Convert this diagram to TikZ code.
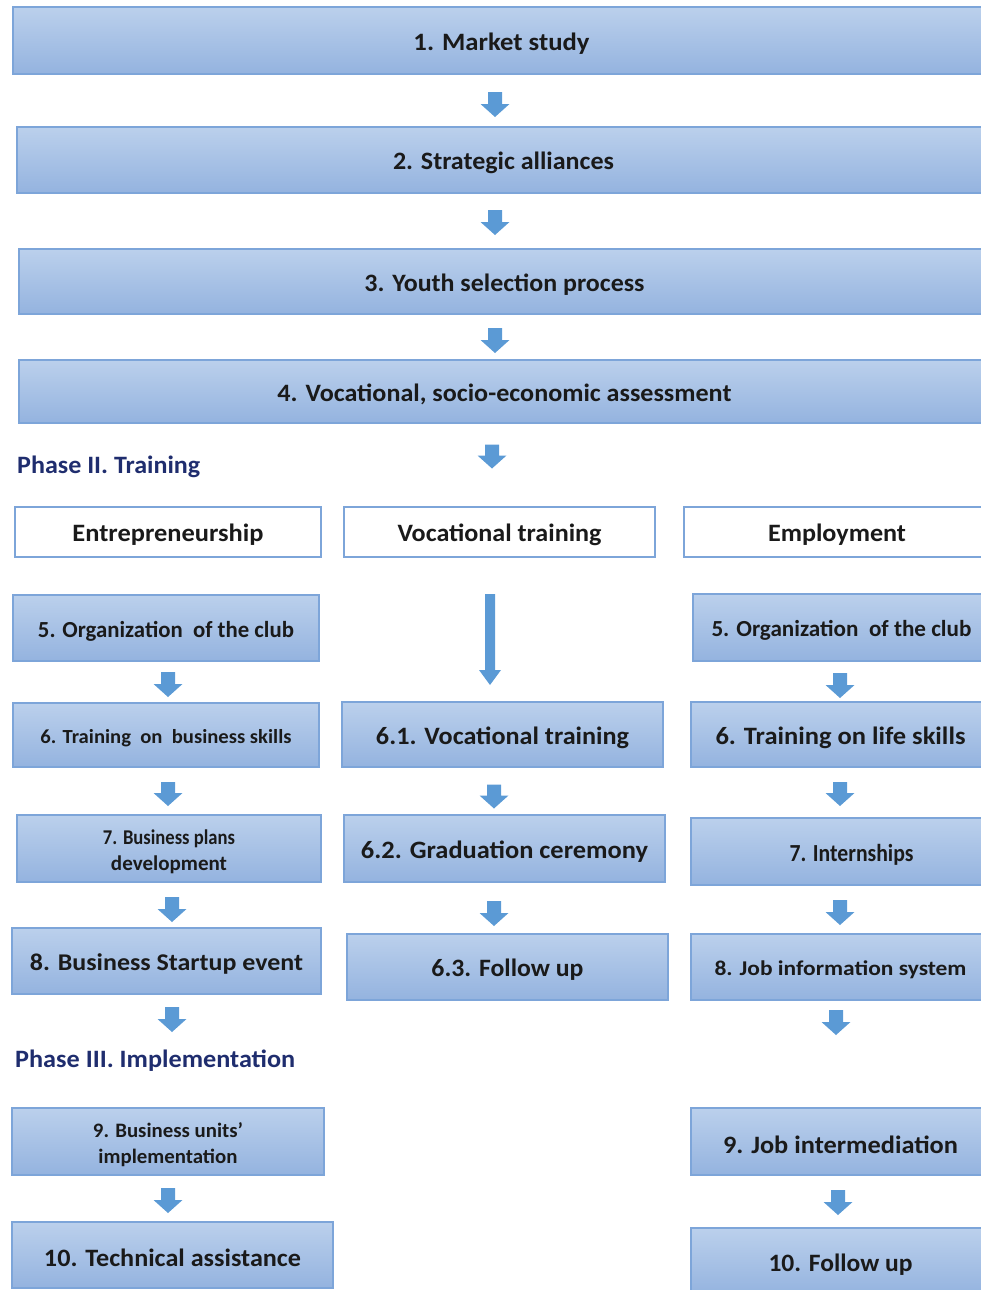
\documentclass[tikz,border=0pt]{standalone}
\usepackage{fontspec}
\usepackage{graphicx}
\setmainfont{Carlito}
\usetikzlibrary{calc}
\definecolor{boxtop}{HTML}{BBD0EC}
\definecolor{boxbot}{HTML}{94B3DF}
\definecolor{boxline}{HTML}{7DA5D9}
\definecolor{arrblue}{HTML}{5B9AD5}
\definecolor{txt}{HTML}{1A1A1A}
\definecolor{navy}{HTML}{1F2D6E}
\tikzset{
  bluebox/.style={draw=boxline, line width=1.2pt, top color=boxtop, bottom color=boxbot,
    inner sep=0pt, text=txt, font=\bfseries\fontsize{18pt}{26pt}\selectfont, align=center},
  headbox/.style={draw=boxline, line width=1.2pt, fill=white, inner sep=0pt, text=txt, font=\bfseries},
  phase/.style={anchor=west, inner sep=0pt, text=navy, font=\bfseries},
}
% font size, target width, text
\newcommand\tw[3]{\raisebox{0pt}[\dimexpr\height+6pt\relax][\depth]{\resizebox{#2pt}{\height}{\fontsize{#1pt}{#1pt}\selectfont #3}}}
% from, to, x, half length, dy (image down), shaft half, head half, head length
\newcommand\flowarrx[8]{%
  \fill[arrblue] let \p1=($(#1.south)!0.5!(#2.north)$) in
    ({#3pt-#6pt},{\y1-(#5pt)+#4pt}) -- ({#3pt+#6pt},{\y1-(#5pt)+#4pt})
    -- ({#3pt+#6pt},{\y1-(#5pt)-#4pt+#8pt}) -- ({#3pt+#7pt},{\y1-(#5pt)-#4pt+#8pt})
    -- ({#3pt},{\y1-(#5pt)-#4pt})
    -- ({#3pt-#7pt},{\y1-(#5pt)-#4pt+#8pt}) -- ({#3pt-#6pt},{\y1-(#5pt)-#4pt+#8pt}) -- cycle;}
\newcommand\flowarr[5]{\flowarrx{#1}{#2}{#3}{#4}{#5}{7}{14.5}{13}}
\begin{document}
\begin{tikzpicture}[x=1pt,y=-1pt]
\useasboundingbox (0,0) rectangle (981,1290);
\clip (0,0) rectangle (981,1290);

% Phase I
\node[bluebox, minimum width=977pt, minimum height=67pt] (n1) at (501.5,40.5) {\tw{25}{176}{1. Market study}};
\node[bluebox, minimum width=973pt, minimum height=66pt] (n2) at (503.5,160) {\tw{25}{221}{2. Strategic alliances}};
\node[bluebox, minimum width=971pt, minimum height=65pt] (n3) at (504.5,281.5) {\tw{25}{280}{3. Youth selection process}};
\node[bluebox, minimum width=971pt, minimum height=63pt] (n4) at (504.5,391.5) {\tw{25}{454}{4. Vocational, socio-economic assessment}};

% Phase II
\node[phase] (p2) at (17,464) {\tw{25}{183}{Phase II. Training}};
\node[headbox, minimum width=306pt, minimum height=50pt] (hE) at (168,532) {\tw{25}{191}{Entrepreneurship}};
\node[headbox, minimum width=311pt, minimum height=50pt] (hV) at (499.5,532) {\tw{25}{204}{Vocational training}};
\node[headbox, minimum width=306pt, minimum height=50pt] (hM) at (837,532) {\tw{25}{138}{Employment}};

% Entrepreneurship column
\node[bluebox, minimum width=306pt, minimum height=66pt] (e5) at (166,628) {\tw{23}{256}{5. Organization~ of the club}};
\node[bluebox, minimum width=306pt, minimum height=64pt] (e6) at (166,735) {\tw{20}{251}{6. Training~ on~ business skills}};
\node[bluebox, minimum width=304pt, minimum height=67pt] (e7) at (169,848.5) {\tw{21}{132}{7. Business plans}\\\tw{21}{116}{development}};
\node[bluebox, minimum width=309pt, minimum height=66pt] (e8) at (166.5,961) {\tw{24}{273}{8. Business Startup event}};
\node[phase] (p3) at (15,1058) {\tw{25}{280}{Phase III. Implementation}};
\node[bluebox, minimum width=312pt, minimum height=67pt] (e9) at (168,1141.5) {\tw{20.5}{150}{9. Business units’}\\\tw{20.5}{139}{implementation}};
\node[bluebox, minimum width=321pt, minimum height=66pt] (e10) at (172.5,1255) {\tw{25}{257}{10. Technical assistance}};

% Vocational column
\node[bluebox, minimum width=321pt, minimum height=65pt] (v1) at (502.5,734.5) {\tw{25}{253}{6.1. Vocational training}};
\node[bluebox, minimum width=321pt, minimum height=67pt] (v2) at (504.5,848.5) {\tw{25}{287}{6.2. Graduation ceremony}};
\node[bluebox, minimum width=321pt, minimum height=66pt] (v3) at (507.5,967) {\tw{25}{152}{6.3. Follow up}};

% Employment column
\node[bluebox, minimum width=297pt, minimum height=67pt] (m5) at (841.5,627.5) {\tw{23}{260}{5. Organization~ of the club}};
\node[bluebox, minimum width=299pt, minimum height=65pt] (m6) at (840.5,734.5) {\tw{25}{250}{6. Training on life skills}};
\node[bluebox, minimum width=299pt, minimum height=67pt] (m7) at (840.5,851.5) {\hspace*{22pt}\tw{24.5}{124}{7. Internships}};
\node[bluebox, minimum width=299pt, minimum height=66pt] (m8) at (840.5,967) {\tw{21}{252}{8. Job information system}};
\node[bluebox, minimum width=299pt, minimum height=67pt] (m9) at (840.5,1141.5) {\tw{25}{235}{9. Job intermediation}};
\node[bluebox, minimum width=299pt, minimum height=67pt] (m10) at (840.5,1261.5) {\tw{25}{144}{10. Follow up}};

% arrows
\flowarr{n1}{n2}{495}{12.5}{4}
\flowarr{n2}{n3}{495}{12.5}{1.5}
\flowarr{n3}{n4}{495}{12.5}{3.5}
\flowarr{n4}{hV}{492}{12}{-8.5}

\flowarr{e5}{e6}{168}{12.5}{2.5}
\flowarr{e6}{e7}{168}{12}{3}
\flowarr{e7}{e8}{172}{12.5}{4.5}
\flowarr{e8}{e9}{172}{12.5}{-31.5}
\flowarr{e9}{e10}{168}{12.5}{2}

\flowarrx{hV}{v1}{490}{45.5}{10}{5}{11}{15}
\flowarr{v1}{v2}{494}{12}{5.5}
\flowarr{v2}{v3}{494}{12.5}{5.5}

\flowarr{m5}{m6}{840}{12.5}{4}
\flowarr{m6}{m7}{840}{12}{1.5}
\flowarr{m7}{m8}{840}{12.5}{3}
\flowarr{m8}{m9}{836}{12.5}{-31.5}
\flowarr{m9}{m10}{838}{12.5}{1}
\end{tikzpicture}
\end{document}
